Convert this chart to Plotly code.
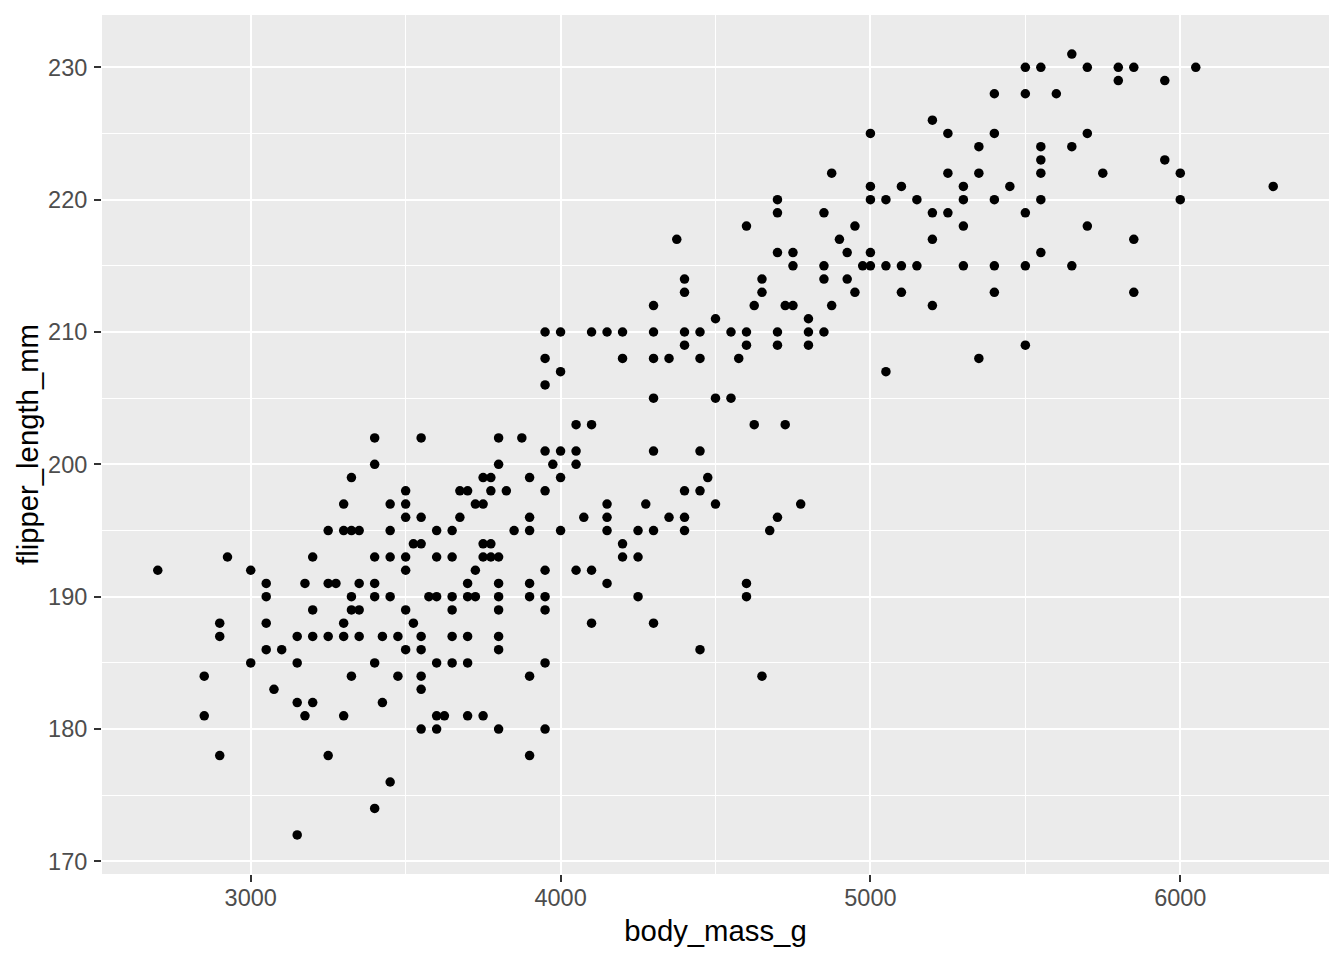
import plotly.graph_objects as go

flipper_length_mm = []
body_mass_g = []

rows = {
    231: [5650],
    230: [5500, 5550, 5700, 5800, 5850, 6050],
    229: [5800, 5950],
    228: [5400, 5500, 5600],
    226: [5200],
    225: [5000, 5250, 5400, 5700],
    224: [5350, 5550, 5650],
    223: [5550, 5950],
    222: [4875, 5250, 5350, 5550, 5750, 6000],
    221: [5000, 5100, 5300, 5450, 6300],
    220: [4700, 5000, 5050, 5150, 5300, 5400, 5550, 6000],
    219: [4700, 4850, 5200, 5250, 5500],
    218: [4600, 4950, 5300, 5700],
    217: [4375, 4900, 5200, 5850],
    216: [4700, 4750, 4925, 5000, 5550],
    215: [4750, 4850, 4975, 5000, 5050, 5100, 5150, 5300, 5400, 5500, 5650],
    214: [4400, 4650, 4850, 4925],
    213: [4400, 4650, 4950, 5100, 5400, 5850],
    212: [4300, 4625, 4725, 4750, 4875, 5200],
    211: [4500, 4800],
    210: [3950, 4000, 4100, 4150, 4200, 4300, 4400, 4450, 4550, 4600, 4700, 4800, 4850],
    209: [4400, 4600, 4700, 4800, 5500],
    208: [3950, 4200, 4300, 4350, 4450, 4575, 5350],
    207: [4000, 5050],
    206: [3950],
    205: [4300, 4500, 4550],
    203: [4050, 4100, 4625, 4725],
    202: [3400, 3550, 3800, 3875],
    201: [3950, 4000, 4050, 4300, 4450],
    200: [3400, 3800, 3975, 4050],
    199: [3325, 3750, 3775, 3900, 4000, 4475],
    198: [3500, 3675, 3700, 3775, 3825, 3950, 4400, 4450],
    197: [3300, 3450, 3500, 3725, 3750, 4150, 4275, 4500, 4775],
    196: [3500, 3550, 3675, 3900, 4075, 4150, 4350, 4400, 4700],
    195: [3250, 3300, 3325, 3350, 3450, 3600, 3650, 3850, 3900, 4000, 4150, 4250, 4300, 4400, 4675],
    194: [3525, 3550, 3750, 3775, 4200],
    193: [2925, 3200, 3400, 3450, 3500, 3600, 3650, 3750, 3775, 3800, 4200, 4250],
    192: [2700, 3000, 3500, 3725, 3950, 4050, 4100],
    191: [3050, 3175, 3250, 3275, 3350, 3400, 3700, 3800, 3900, 4150, 4600],
    190: [3050, 3325, 3400, 3450, 3575, 3600, 3650, 3700, 3725, 3800, 3900, 3950, 4250, 4600],
    189: [3200, 3325, 3350, 3500, 3650, 3800, 3950],
    188: [2900, 3050, 3300, 3525, 4100, 4300],
    187: [2900, 3150, 3200, 3250, 3300, 3350, 3425, 3475, 3550, 3650, 3700, 3800],
    186: [3050, 3100, 3500, 3550, 3800, 4450],
    185: [3000, 3150, 3400, 3600, 3650, 3700, 3950],
    184: [2850, 3325, 3475, 3550, 3900, 4650],
    183: [3075, 3550],
    182: [3150, 3200, 3425],
    181: [2850, 3175, 3300, 3600, 3625, 3700, 3750],
    180: [3550, 3600, 3800, 3950],
    178: [2900, 3250, 3900],
    176: [3450],
    174: [3400],
    172: [3150],
}
for fl, masses in rows.items():
    for m in masses:
        flipper_length_mm.append(fl)
        body_mass_g.append(m)

x_ticks = [3000, 4000, 5000, 6000]
y_ticks = [170, 180, 190, 200, 210, 220, 230]

x_min, x_max = min(body_mass_g), max(body_mass_g)
y_min, y_max = min(flipper_length_mm), max(flipper_length_mm)
xpad = (x_max - x_min) * 0.05
ypad = (y_max - y_min) * 0.05

FONT = "Liberation Sans, Arial, sans-serif"

fig = go.Figure(
    go.Scatter(
        x=body_mass_g,
        y=flipper_length_mm,
        mode="markers",
        marker=dict(color="black", size=9.5, line=dict(width=0)),
        hoverinfo="x+y",
    )
)

axis_common = dict(
    showline=False,
    zeroline=False,
    showgrid=True,
    gridcolor="white",
    gridwidth=2.2,
    ticks="outside",
    ticklen=7,
    tickwidth=2,
    tickcolor="#333333",
    tickfont=dict(family=FONT, size=23.5, color="#4D4D4D"),
)

fig.update_xaxes(
    **axis_common,
    ticklabelstandoff=-4,
    range=[x_min - xpad, x_max + xpad],
    tickvals=x_ticks,
    ticktext=[str(v) for v in x_ticks],
    minor=dict(tickvals=[3500, 4500, 5500], showgrid=True, gridcolor="white", gridwidth=1.1, ticks=""),
    title=dict(text="body_mass_g", font=dict(family=FONT, size=29.3, color="black"), standoff=10),
)
fig.update_yaxes(
    **axis_common,
    ticklabelstandoff=2,
    range=[y_min - ypad, y_max + ypad],
    tickvals=y_ticks,
    ticktext=[str(v) for v in y_ticks],
    minor=dict(tickvals=[175, 185, 195, 205, 215, 225], showgrid=True, gridcolor="white", gridwidth=1.1, ticks=""),
    title=dict(text="flipper_length_mm", font=dict(family=FONT, size=29.3, color="black"), standoff=0),
)

fig.update_layout(
    width=1344,
    height=960,
    margin=dict(l=102, r=15, t=15, b=86, autoexpand=False),
    plot_bgcolor="#EBEBEB",
    paper_bgcolor="white",
    showlegend=False,
)

fig.write_html(
    "out.html",
    config={"displayModeBar": False},
    post_script="document.body.style.margin='0px';document.body.style.overflow='hidden';",
)
